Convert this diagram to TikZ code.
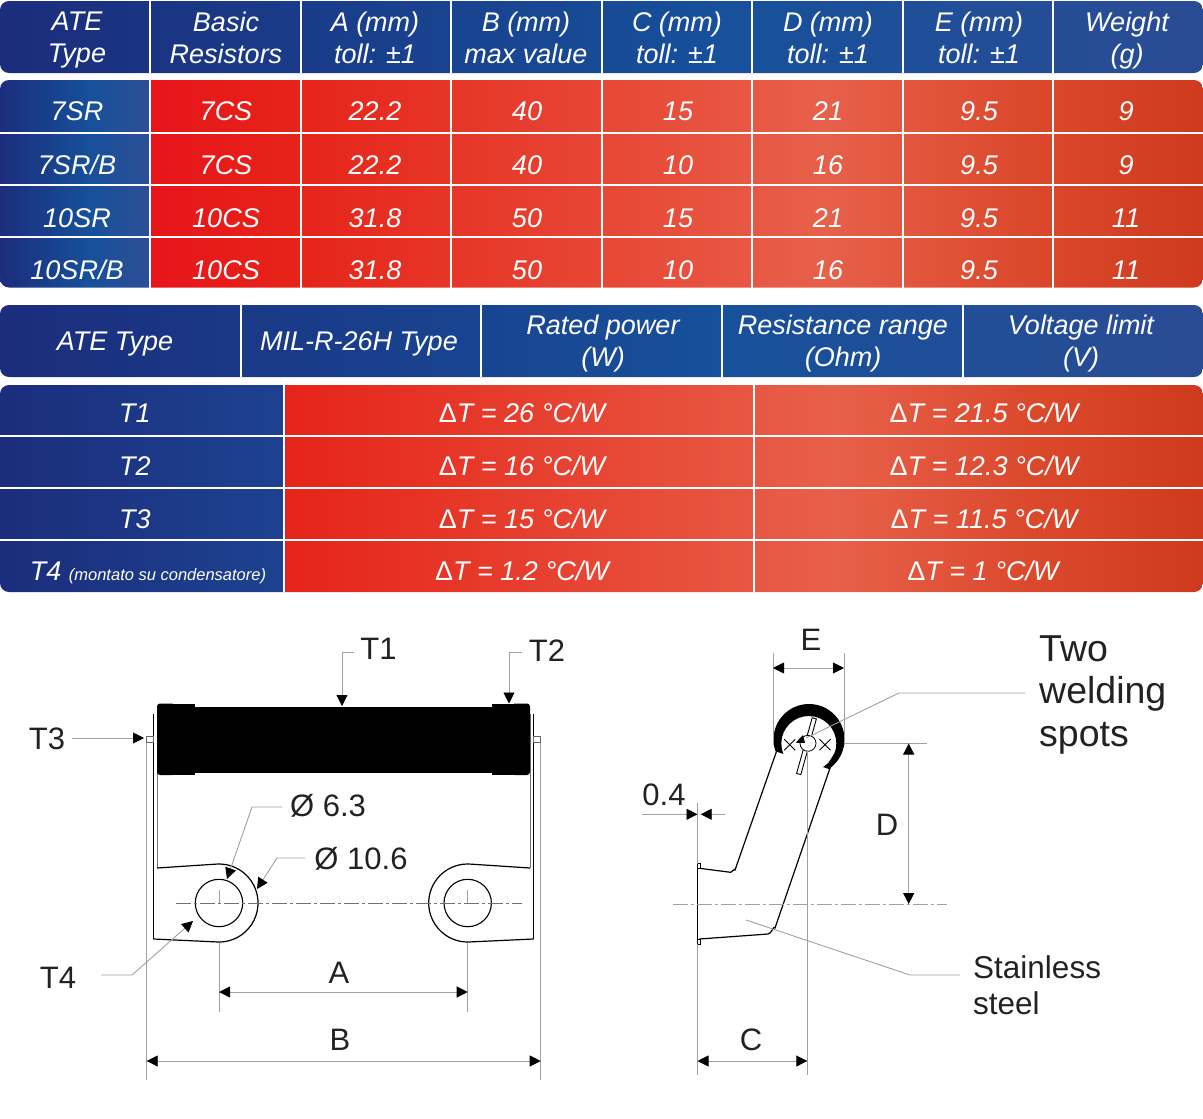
\documentclass[tikz,border=0pt]{standalone}
\usepackage{fontspec}
\setmainfont{Liberation Sans}
\usetikzlibrary{arrows.meta}
\definecolor{bA}{HTML}{1B2D7C}
\definecolor{bB}{HTML}{17509B}
\definecolor{bC}{HTML}{2A4C94}
\definecolor{bD}{HTML}{2D4F95}
\definecolor{bE}{HTML}{1D4290}
\definecolor{rA}{HTML}{E8141A}
\definecolor{rB}{HTML}{E62419}
\definecolor{rC}{HTML}{E7604A}
\definecolor{rD}{HTML}{DC4A2E}
\definecolor{rE}{HTML}{CF3A1E}
\definecolor{ink}{HTML}{222222}
\definecolor{leader}{HTML}{A0A0A0}
\pgfdeclarehorizontalshading{hdrblue}{100bp}{color(0bp)=(bA); color(25bp)=(bA); color(55bp)=(bB); color(75bp)=(bC); color(100bp)=(bC)}
\pgfdeclarehorizontalshading{colblue}{100bp}{color(0bp)=(bA); color(25bp)=(bA); color(55bp)=(bB); color(75bp)=(bD); color(100bp)=(bD)}
\pgfdeclarehorizontalshading{colnavy}{100bp}{color(0bp)=(bA); color(25bp)=(bA); color(75bp)=(bE); color(100bp)=(bE)}
\pgfdeclarehorizontalshading{redone}{100bp}{color(0bp)=(rA); color(25bp)=(rA); color(32bp)=(rB); color(57bp)=(rC); color(66bp)=(rD); color(75bp)=(rE); color(100bp)=(rE)}
\pgfdeclarehorizontalshading{redtwo}{100bp}{color(0bp)=(rB); color(25bp)=(rB); color(55bp)=(rC); color(65bp)=(rD); color(75bp)=(rE); color(100bp)=(rE)}
\tikzset{
  cell/.style={text=white,align=center,inner sep=0pt,font=\fontsize{27}{32}\selectfont\itshape,execute at begin node=\strut,execute at end node=\strut},
  sepline/.style={white,line width=2},
  lab/.style={text=ink,inner sep=0pt,font=\fontsize{31}{31}\selectfont},
  labbig/.style={text=ink,inner sep=0pt,anchor=base west,font=\fontsize{37.5}{37.5}\selectfont},
  labmid/.style={text=ink,inner sep=0pt,anchor=west,font=\fontsize{31.5}{31.5}\selectfont},
  guide/.style={leader,line width=0.9},
  part/.style={black,line width=1.2},
  leadinner/.style={black!55,line width=1},
  centreline/.style={leader!70!black,line width=1,dash pattern=on 15 off 3 on 3 off 3},
  dimline/.style={guide,{Triangle[length=11,width=11,color=black]}-{Triangle[length=11,width=11,color=black]}},
  tipline/.style={guide,-{Triangle[length=11,width=11,color=black]}},
}
\begin{document}
\begin{tikzpicture}[x=1pt,y=-1pt]
\useasboundingbox (0,0) rectangle (1203,1119);
% table 1 header
\shade[shading=hdrblue,rounded corners=9] (0,1) rectangle (1203,73);
\foreach \x in {150,301,451,602,752,903,1053} \draw[sepline] (\x,1) -- (\x,73);
\foreach \x/\t [count=\i] in {77/ATE\\Type,226/Basic\\Resistors,375/A (mm)\\toll: ±1,526/B (mm)\\max value,677/C (mm)\\toll: ±1,828/D (mm)\\toll: ±1,979/E (mm)\\toll: ±1,1127/Weight\\(g)}
  \node[cell] (ha\i) at (\x,42.5) {\t};
% table 1 body
\begin{scope}
\clip[rounded corners=9] (0,80) rectangle (1203,287.5);
\shade[shading=colblue] (0,80) rectangle (150,288);
\shade[shading=redone] (150,80) rectangle (1203,288);
\end{scope}
\foreach \y in {133,185,237} \draw[sepline] (0,\y) -- (1203,\y);
\foreach \x in {150,301,451,602,752,903,1053} \draw[sepline] (\x,80) -- (\x,287.5);
\foreach \y/\a/\b/\c/\d/\e/\f/\g/\h [count=\r] in {
  113.8/7SR/7CS/22.2/40/15/21/9.5/9,
  167.6/7SR\slash B/7CS/22.2/40/10/16/9.5/9,
  221.2/10SR/10CS/31.8/50/15/21/9.5/11,
  273/10SR\slash B/10CS/31.8/50/10/16/9.5/11}{
  \node[cell] (c\r a) at (77,\y) {\a};
  \node[cell] (c\r b) at (226,\y) {\b};
  \node[cell] (c\r c) at (375,\y) {\c};
  \node[cell] (c\r d) at (527,\y) {\d};
  \node[cell] (c\r e) at (678,\y) {\e};
  \node[cell] (c\r f) at (828,\y) {\f};
  \node[cell] (c\r g) at (979,\y) {\g};
  \node[cell] (c\r h) at (1126,\y) {\h};
}
% table 2 header
\shade[shading=hdrblue,rounded corners=9] (0,305) rectangle (1203,377);
\foreach \x in {241,481,722,963} \draw[sepline] (\x,305) -- (\x,377);
\foreach \x/\t [count=\i] in {115/ATE Type,359/MIL-R-26H Type}
  \node[cell] (hb\i) at (\x,343.8) {\t};
\foreach \x/\t [count=\i from 3] in {603/Rated power\\(W),843/Resistance range\\(Ohm),1081/Voltage limit\\(V)}
  \node[cell] (hb\i) at (\x,345.6) {\t};
% table 2 body
\begin{scope}
\clip[rounded corners=9] (0,385) rectangle (1203,592);
\shade[shading=colnavy] (0,385) rectangle (284,592);
\shade[shading=redtwo] (284,385) rectangle (1203,592);
\end{scope}
\foreach \y in {436,488,540} \draw[sepline] (0,\y) -- (1203,\y);
\draw[sepline] (284,385) -- (284,592);
\draw[sepline] (754,385) -- (754,592);
\newcommand{\dT}{{\upshape Δ}T}
\foreach \y/\t/\a/\b [count=\r] in {415.6/T1/26/21.5,469/T2/16/12.3,522/T3/15/11.5}{
  \node[cell] (d\r a) at (135,\y) {\t};
  \node[cell] (d\r b) at (522,\y) {\dT{} = \a{} °C/W};
  \node[cell] (d\r c) at (984,\y) {\dT{} = \b{} °C/W};
}
\node[cell] (d4a) at (148,574) {T4 {\fontsize{16.5}{17}\selectfont(montato su condensatore)}};
\node[cell] (d4b) at (522,574) {\dT{} = 1.2 °C/W};
\node[cell] (d4c) at (983,574) {\dT{} = 1 °C/W};

% ---------- front view
% leads
\draw[part] (153.5,714) -- (153.5,939);
\draw[leadinner] (157,714) -- (157,868);
\draw[leadinner] (530,714) -- (530,868);
\draw[part] (533.5,714) -- (533.5,939);
\draw[guide,black!60] (146.7,736.7) rectangle (153.5,742.7);
\draw[guide,black!60] (533.5,736.7) rectangle (540.7,742.7);
% body
\fill[black,rounded corners=3] (157,703.5) rectangle (175,775);
\fill[black] (168,703.5) rectangle (195,775);
\fill[black,rounded corners=3] (512,703.5) rectangle (530,775);
\fill[black] (492,703.5) rectangle (519,775);
\fill[black] (190,706.5) rectangle (497,772.5);
% lugs
\draw[part] (157,868) -- (216.3,864.1) arc[start angle=-94,end angle=94,radius=39] -- (153.5,939);
\draw[part] (530,868) -- (470.4,864.1) arc[start angle=274,end angle=86,radius=39] -- (533.5,939);
\node[circle,draw=black,line width=1.1,minimum size=47.4,inner sep=0] (holeL) at (219,903) {};
\node[circle,draw=black,line width=1.1,minimum size=47.4,inner sep=0] (holeR) at (467.7,903) {};
% centre and extension lines
\draw[centreline] (176,903) -- (522,903);
\draw[guide] (219,890) -- (219,903) (219,943) -- (219,1012);
\draw[guide] (467.7,890) -- (467.7,903) (467.7,943) -- (467.7,1012);
\draw[guide] (146.7,743) -- (146.7,1080);
\draw[guide] (540.7,743) -- (540.7,1080);
% dimensions
\coordinate (aL) at (219,992); \coordinate (aR) at (467.7,992);
\coordinate (bL) at (146.7,1061); \coordinate (bR) at (540.7,1061);
\draw[dimline] (aL) -- (aR);
\draw[dimline] (bL) -- (bR);
\node[lab] (lA) at (339,972.7) {A};
\node[lab] (lB) at (340,1039.5) {B};
% labels with leaders
\node[lab] (t1) at (378.5,648.7) {T1};
\node[lab] (t2) at (547,651) {T2};
\node[lab] (t3) at (47,738.7) {T3};
\node[lab] (t4) at (58,977.5) {T4};
\node[lab] (d63) at (328,805.7) {Ø 6.3};
\node[lab] (d106) at (361,858.7) {Ø 10.6};
\coordinate (t1a) at (354,652); \coordinate (t1b) at (342,652); \coordinate (t1c) at (342,706);
\coordinate (t2a) at (522,652); \coordinate (t2b) at (509,652); \coordinate (t2c) at (509,703.5);
\coordinate (t3a) at (72,738); \coordinate (t3c) at (144,738);
\coordinate (t4a) at (101,975); \coordinate (t4b) at (132,975); \coordinate (t4c) at (193,921);
\coordinate (d63a) at (282,807); \coordinate (d63b) at (252,807); \coordinate (d63c) at (227,879);
\coordinate (d106a) at (305,858); \coordinate (d106b) at (277,858); \coordinate (d106c) at (257,889);
\draw[tipline] (t1a) -- (t1b) -- (t1c);
\draw[tipline] (t2a) -- (t2b) -- (t2c);
\draw[tipline] (t3a) -- (t3c);
\draw[tipline] (t4a) -- (t4b) -- (t4c);
\draw[tipline] (d63a) -- (d63b) -- (d63c);
\draw[tipline] (d106a) -- (d106b) -- (d106c);

% ---------- side view
\begin{scope}
\clip (760,690) -- (860,690) -- (860,778) -- (829,769) -- (776.7,751.7) -- (760,746) -- cycle;
\fill[black,even odd rule] (809,739.5) circle[radius=35.5] (808.8,743.5) circle[radius=27.5];
\end{scope}
\fill[black] (829,762) -- (836.5,750) -- (842,752) -- (830,769) -- cycle;
\draw[part] (777,750) -- (735,870) to[out=115,in=10] (730.7,872.3) -- (699.5,868.3);
\draw[part] (830,768) -- (775,928) to[out=110,in=0] (768,934) -- (699.5,939);
\draw[part] (697.5,868) -- (697.5,939);
\draw[black,line width=0.9] (697.5,863.3) rectangle (700.7,868.3);
\draw[black,line width=0.9] (697.5,939.3) rectangle (700.7,944);
% pin
\draw[black,fill=white,line width=0.9] (816.4,718.9) -- (812.2,717.7) -- (796.6,773.4) -- (800.8,774.6) -- cycle;
\node[circle,draw=black,fill=white,line width=0.8,minimum size=16,inner sep=0] (hub) at (808,743.3) {};
\draw[black,line width=0.9] (784.2,739.2) -- (795.2,750.2) (784.2,750.2) -- (795.2,739.2);
\draw[black,line width=0.9] (819.5,739.2) -- (830.5,750.2) (819.5,750.2) -- (830.5,739.2);
% extension lines
\draw[guide] (773,653) -- (773,745);
\draw[guide] (844,653) -- (844,745);
\draw[guide] (844,743.3) -- (927,743.3);
\draw[guide] (807.3,750) -- (807.3,1075);
\draw[guide] (697.5,803) -- (697.5,864) (697.5,944) -- (697.5,1075);
\draw[centreline,leader] (673,904) -- (947,904);
% dimensions
\coordinate (eL) at (773,668); \coordinate (eR) at (844,668);
\coordinate (dT) at (908.7,743.5); \coordinate (dB) at (908.7,904);
\coordinate (cL) at (697.5,1061); \coordinate (cR) at (807.3,1061);
\draw[dimline] (eL) -- (eR);
\draw[dimline] (dT) -- (dB);
\draw[dimline] (cL) -- (cR);
\coordinate (zA) at (642,814.3); \coordinate (zB) at (697.5,814.3);
\coordinate (zC) at (725,814.3); \coordinate (zD) at (700.7,814.3);
\draw[tipline] (zA) -- (zB);
\draw[tipline] (zC) -- (zD);
\node[lab] (lE) at (811,640.3) {E};
\node[lab] (lD) at (887,824.7) {D};
\node[lab] (lC) at (751,1040.3) {C};
\node[lab] (l04) at (664,794.5) {0.4};
% welding spots
\node[labbig] (w1) at (1039,661.5) {Two};
\node[labbig] (w2) at (1039,703.5) {welding};
\node[labbig] (w3) at (1039,746) {spots};
\coordinate (wa) at (1025,693); \coordinate (wb) at (899,693); \coordinate (wc) at (806,738);
\draw[guide] (wa) -- (wb) -- (wc);
\fill[black] (795.7,742.7) -- (803,735) -- (805,743) -- cycle;
% stainless steel
\node[labmid] (s1) at (973,967) {Stainless};
\node[labmid] (s2) at (973,1003) {steel};
\coordinate (sa) at (960,975); \coordinate (sb) at (910,975); \coordinate (sc) at (746,920);
\draw[guide] (sa) -- (sb) -- (sc);
\end{tikzpicture}
\end{document}
